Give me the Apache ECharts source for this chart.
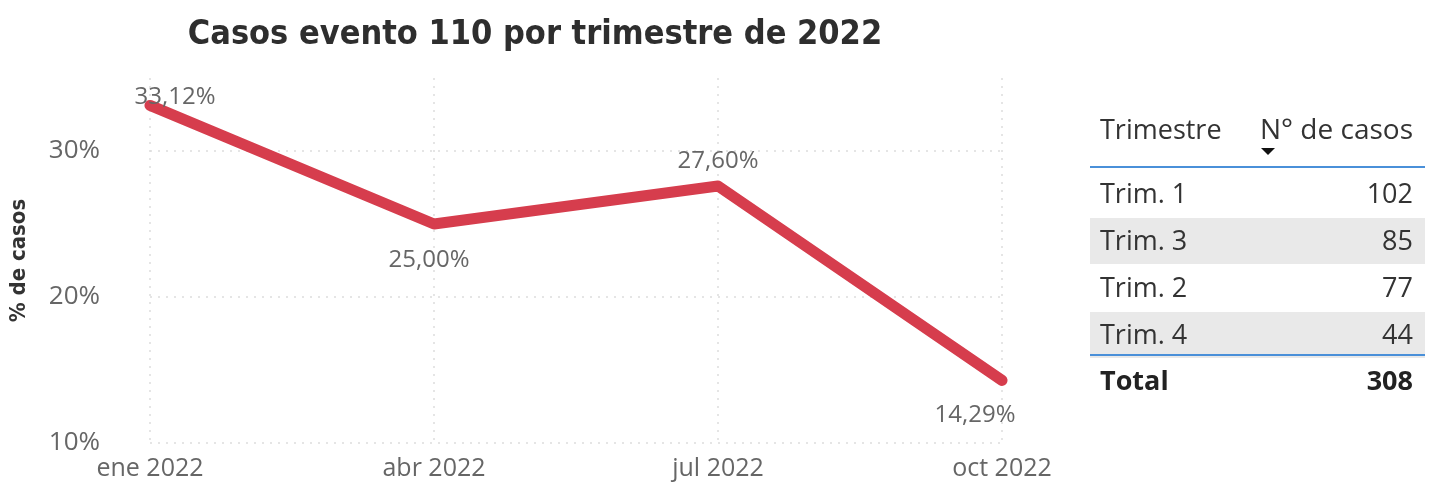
<!DOCTYPE html>
<html>
<head>
<meta charset="utf-8">
<script src="https://cdn.jsdelivr.net/npm/echarts@6/dist/echarts.min.js"></script>
<style>
  html, body { margin: 0; padding: 0; background: #fff; }
  #chart { width: 1434px; height: 486px; }
</style>
</head>
<body>
<div id="chart"></div>
<script>
// Quarterly share of event-110 cases, 2022
const quarters = ['ene 2022', 'abr 2022', 'jul 2022', 'oct 2022'];
const pctCases = [33.12, 25.00, 27.60, 14.29];
const labelSide = ['top', 'bottom', 'top', 'bottom'];
const labelShift = [[25, 16], [-5, 12], [0, 0], [-27, 10]];
const yTicks = [10, 20, 30];

// Summary table: quarter and number of cases (sorted by cases)
const tableQuarters = ['Trim. 1', 'Trim. 3', 'Trim. 2', 'Trim. 4'];
const tableCases = [102, 85, 77, 44];
const totalCases = 308;

const fmtPct = v => v.toFixed(2).replace('.', ',') + '%';
const uiFont = '"Open Sans", "Noto Sans", sans-serif';
const tFont = '27px ' + uiFont;

// Table drawn as graphic elements
const tbl = { left: 1090, right: 1425, textL: 1100, textR: 1413, headY: 131, lineY: 167, rowY0: 195, rowH: 47 };
const graphics = [];
graphics.push({ type: 'text', x: tbl.textL, y: tbl.headY, style: { text: 'Trimestre', font: tFont, fill: '#333', textVerticalAlign: 'middle' } });
graphics.push({ type: 'text', x: tbl.textR, y: tbl.headY, style: { text: 'N° de casos', font: '28px ' + uiFont, fill: '#333', textAlign: 'right', textVerticalAlign: 'middle' } });
graphics.push({ type: 'polygon', shape: { points: [[1261, 148], [1275, 148], [1268, 155]] }, style: { fill: '#111' } });
tableQuarters.forEach((q, i) => {
  const cy = tbl.rowY0 + i * tbl.rowH;
  if (i % 2 === 1) {
    graphics.push({ type: 'rect', shape: { x: tbl.left, y: cy - 24, width: tbl.right - tbl.left, height: 46 }, style: { fill: '#e9e9e9' }, z: 1 });
  }
  graphics.push({ type: 'text', x: tbl.textL, y: cy, style: { text: q, font: tFont, fill: '#333', textVerticalAlign: 'middle' }, z: 2 });
  graphics.push({ type: 'text', x: tbl.textR, y: cy, style: { text: String(tableCases[i]), font: tFont, fill: '#333', textAlign: 'right', textVerticalAlign: 'middle' }, z: 2 });
});
graphics.push({ type: 'line', shape: { x1: tbl.left, y1: tbl.lineY, x2: tbl.right, y2: tbl.lineY }, style: { stroke: '#4a90d9', lineWidth: 2 }, z: 3 });
const totalLineY = tbl.rowY0 + (tableQuarters.length - 1) * tbl.rowH + 19;
graphics.push({ type: 'line', shape: { x1: tbl.left, y1: totalLineY, x2: tbl.right, y2: totalLineY }, style: { stroke: '#4a90d9', lineWidth: 2 }, z: 3 });
graphics.push({ type: 'text', x: tbl.textL, y: totalLineY + 27, style: { text: 'Total', font: 'bold ' + tFont, fill: '#222', textVerticalAlign: 'middle' }, z: 2 });
graphics.push({ type: 'text', x: tbl.textR, y: totalLineY + 27, style: { text: String(totalCases), font: 'bold ' + tFont, fill: '#222', textAlign: 'right', textVerticalAlign: 'middle' }, z: 2 });

const lineColor = '#d63d4d';
const chart = echarts.init(document.getElementById('chart'), null, { renderer: 'canvas' });
chart.setOption({
  animation: false,
  backgroundColor: '#fff',
  title: {
    text: 'Casos evento 110 por trimestre de 2022',
    left: 530, top: 13, textAlign: 'center',
    textStyle: { fontFamily: '"DejaVu Sans Condensed", sans-serif', fontWeight: 'bold', fontSize: 34, color: '#2e2e2e' }
  },
  grid: { left: 147, right: 432, top: 78, bottom: 43 },
  xAxis: {
    type: 'category',
    data: quarters,
    boundaryGap: false,
    axisLine: { show: false },
    axisTick: { show: false },
    axisLabel: { color: '#666', fontSize: 25, fontFamily: uiFont, margin: 13 },
    splitLine: { show: true, lineStyle: { color: '#dddddd', type: [2, 6], width: 1.5 } }
  },
  yAxis: {
    type: 'value',
    min: 10, max: 35,
    name: '% de casos',
    nameLocation: 'middle',
    nameGap: 120,
    nameTextStyle: { color: '#333', fontSize: 22, fontFamily: '"DejaVu Sans Condensed", sans-serif', fontWeight: 'bold' },
    axisLine: { show: false },
    axisTick: { show: false },
    splitLine: { show: false },
    axisLabel: {
      color: '#666', fontSize: 26, fontFamily: uiFont, margin: 50,
      formatter: v => (yTicks.includes(v) ? v + '%' : '')
    }
  },
  series: [{
    type: 'line',
    data: pctCases.map((v, i) => ({
      value: v,
      label: { position: labelSide[i], offset: labelShift[i] }
    })),
    symbol: 'circle',
    symbolSize: 1,
    showSymbol: true,
    itemStyle: { color: lineColor },
    lineStyle: { color: lineColor, width: 11, cap: 'round', join: 'round' },
    label: {
      show: true, color: '#666', fontSize: 24, fontFamily: uiFont, distance: 12,
      formatter: p => fmtPct(p.value)
    },
    markLine: {
      silent: true, symbol: 'none', label: { show: false },
      lineStyle: { color: '#dddddd', type: [2, 6], width: 1.5 },
      data: yTicks.map(t => ({ yAxis: t })),
      z: 0
    },
    z: 5
  }],
  graphic: graphics
});
</script>
</body>
</html>
